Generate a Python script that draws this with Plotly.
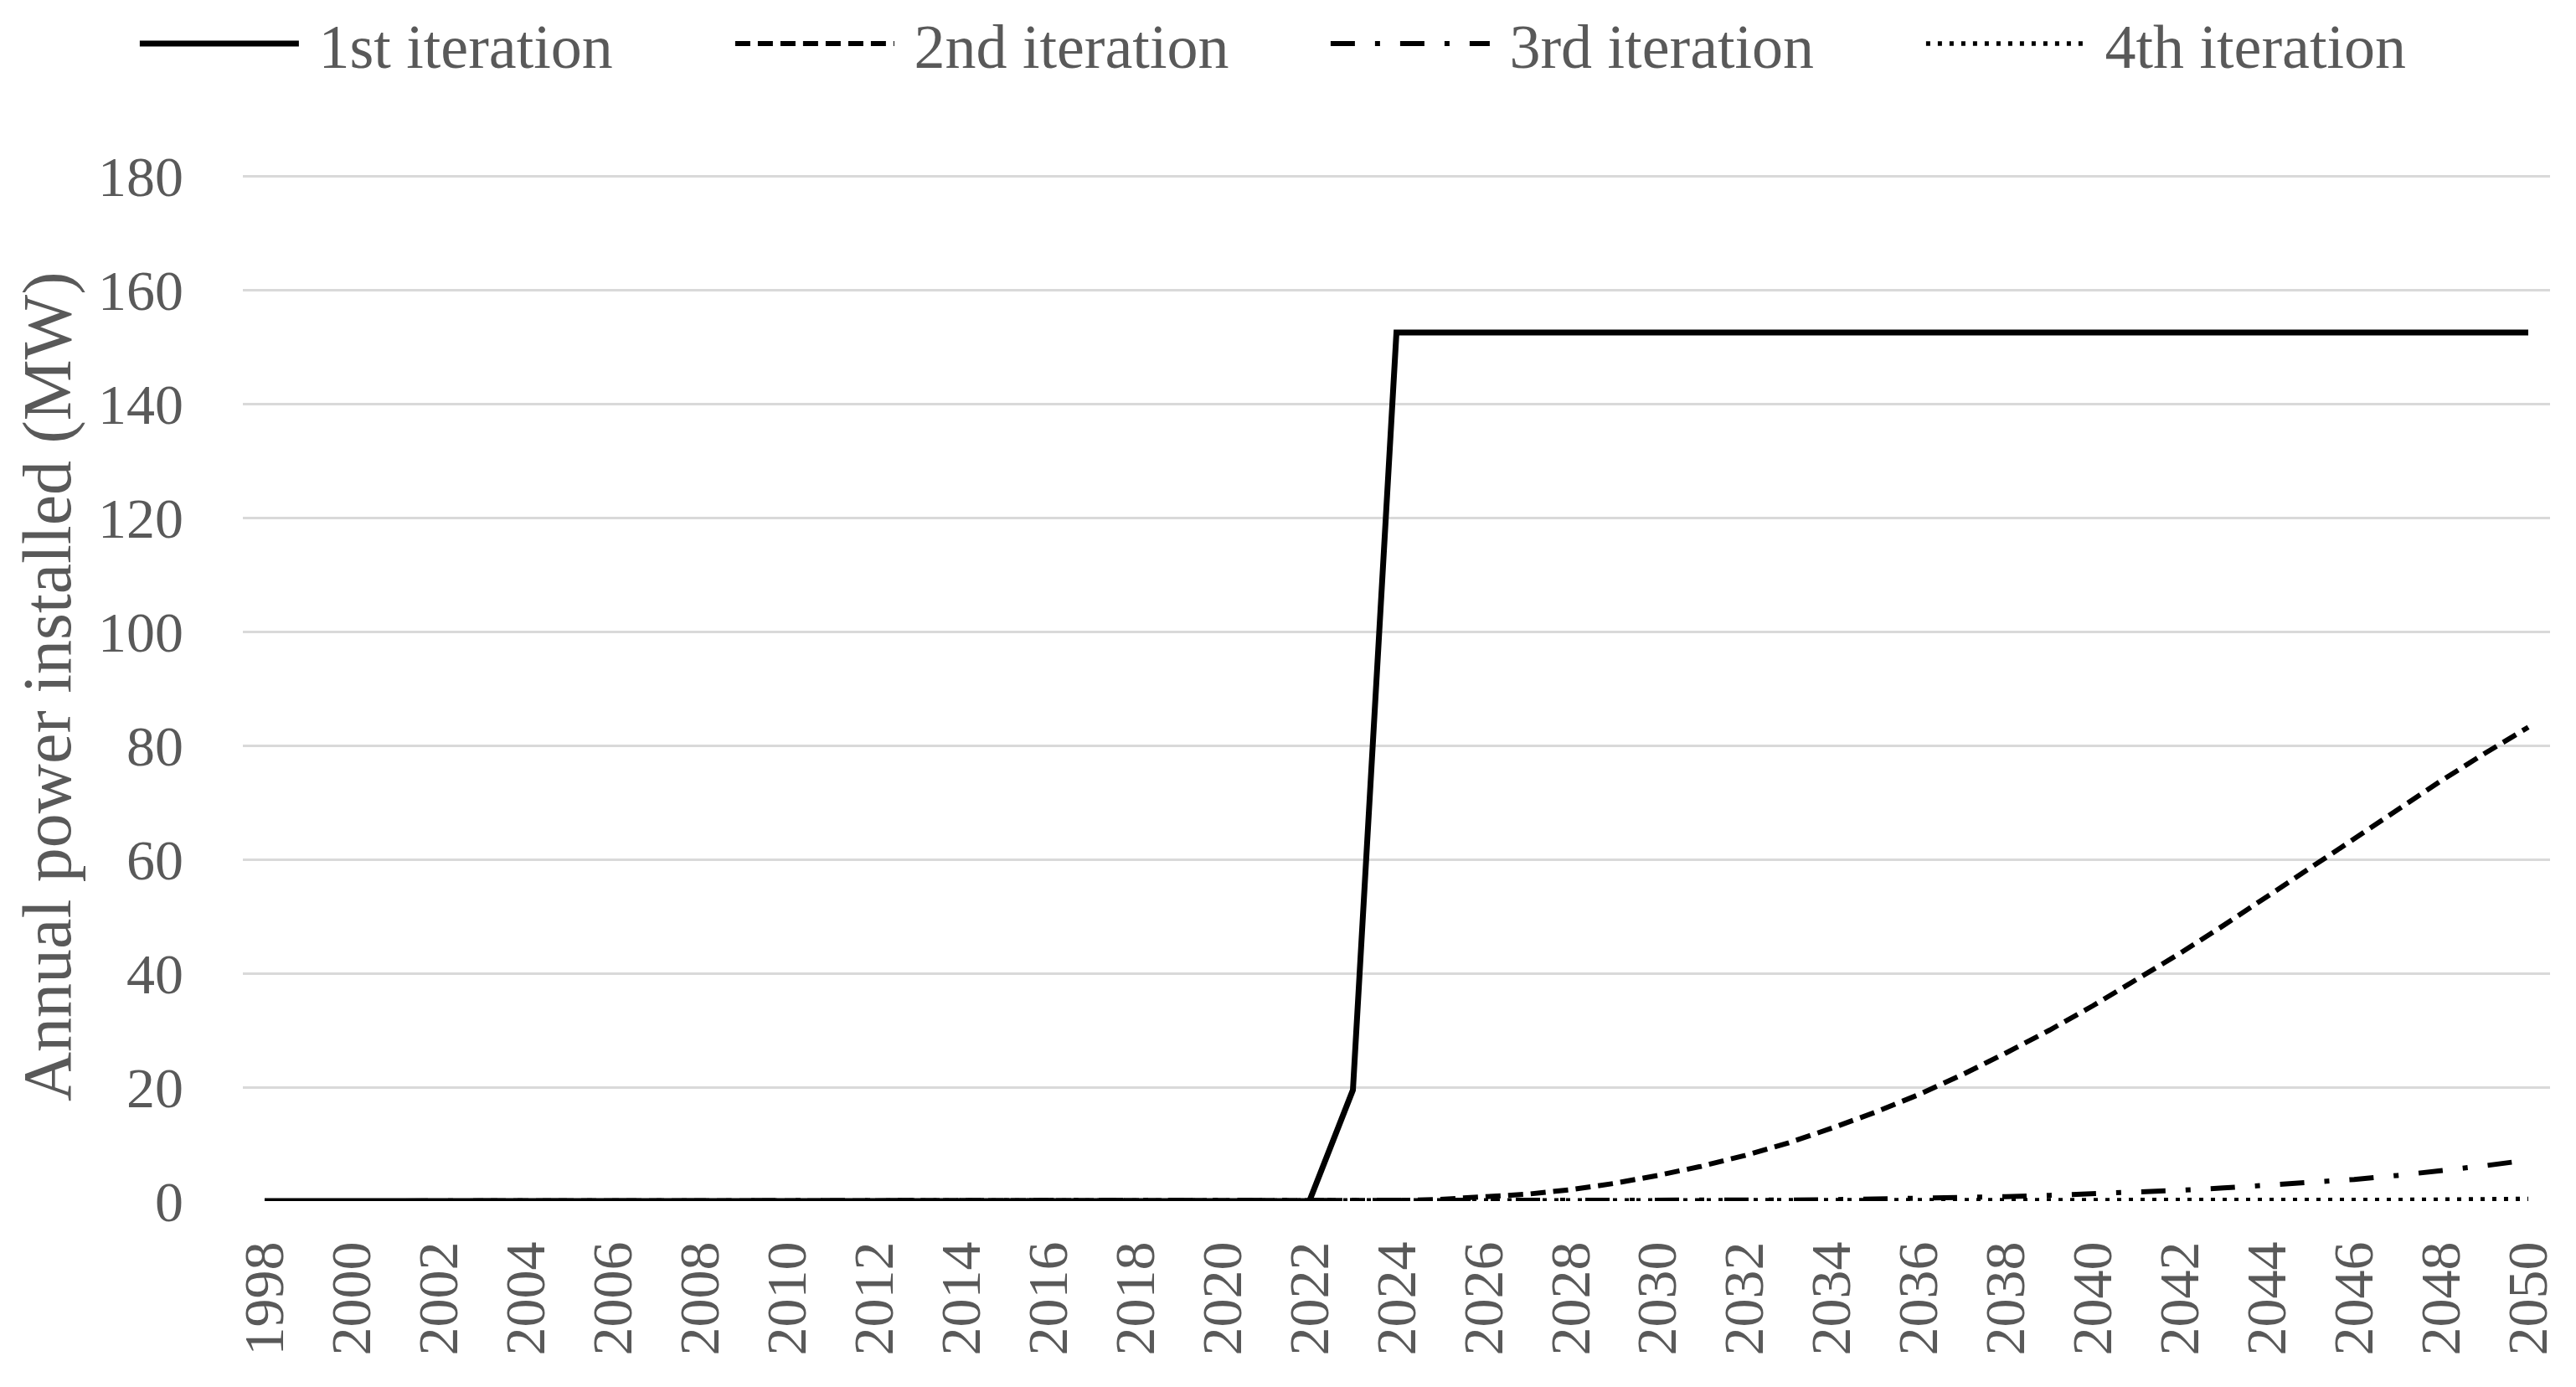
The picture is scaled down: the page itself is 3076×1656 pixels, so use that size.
import plotly.graph_objects as go

years = list(range(1998, 2051))

# 1st iteration: zero until 2022, ramp in 2023, plateau afterwards
iter1 = [0.0] * 25 + [19.5] + [152.5] * 27

# 2nd iteration (2023..2050), zeros before
iter2_tail = [0.0, 0.1, 0.3, 0.7, 1.2, 2.0, 3.1, 4.5, 6.1, 8.0, 10.2, 12.8, 15.6, 18.7,
              22.2, 26.0, 30.0, 34.3, 38.8, 43.5, 48.4, 53.4, 58.5, 63.6, 68.7, 73.8, 78.6, 83.2]
iter2 = [0.0] * 25 + iter2_tail

# 3rd iteration (2023..2050)
iter3_tail = [0.0, 0.0, 0.0, 0.0, 0.01, 0.02, 0.04, 0.06, 0.09, 0.13, 0.18, 0.25, 0.34, 0.45,
              0.6, 0.78, 1.0, 1.25, 1.55, 1.9, 2.3, 2.75, 3.25, 3.8, 4.5, 5.3, 6.2, 7.2]
iter3 = [0.0] * 25 + iter3_tail

# 4th iteration (2023..2050)
iter4_tail = [0.0] * 14 + [0.01, 0.01, 0.02, 0.03, 0.04, 0.05, 0.07, 0.09, 0.12, 0.15,
                           0.19, 0.24, 0.3, 0.37]
iter4 = [0.0] * 25 + iter4_tail

tick_years = list(range(1998, 2051, 2))
tick_labels = [str(y) for y in tick_years]
y_ticks = list(range(0, 181, 20))

names = ["1st iteration", "2nd iteration", "3rd iteration", "4th iteration"]
series = [iter1, iter2, iter3, iter4]
dashes = ["solid", "18px,9px", "29px,24px,6px,24px", "5px,9px"]
widths = [7, 6, 6, 5.5]

FONT = "Liberation Serif"
TXT = "#595959"

fig = go.Figure()
# draw later series first so the solid line sits on top at zero
order = [3, 2, 1, 0]
for i in order:
    fig.add_trace(go.Scatter(
        x=years, y=series[i], mode="lines", name="\u00a0" + names[i],
        line=dict(color="black", width=widths[i], dash=dashes[i]),
        legendrank=i + 1,
    ))

fig.update_layout(
    width=3076, height=1656,
    paper_bgcolor="white", plot_bgcolor="white",
    margin=dict(l=282, r=39, t=198, b=230, autoexpand=False),
    font=dict(family=FONT, size=68, color=TXT),
    showlegend=True,
    legend=dict(
        orientation="h", x=-0.0465, xanchor="left", y=1.125, yanchor="middle",
        itemwidth=190, entrywidth=506, entrywidthmode="pixels",
        font=dict(family=FONT, size=74, color=TXT),
        traceorder="normal", bgcolor="rgba(0,0,0,0)",
    ),
    xaxis=dict(
        range=[1997.5, 2050.5], tickmode="array", tickvals=tick_years, ticktext=tick_labels,
        tickangle=-90, showgrid=False, zeroline=False, showline=False, ticks="",
        automargin=False, ticklabelstandoff=34,
        tickfont=dict(family=FONT, size=68, color=TXT),
    ),
    yaxis=dict(
        range=[0, 180.59], tickmode="array", tickvals=y_ticks,
        showgrid=True, gridcolor="#d9d9d9", gridwidth=3, zeroline=False, showline=False,
        ticks="", automargin=False, ticklabelstandoff=70,
        tickfont=dict(family=FONT, size=68, color=TXT),
    ),
    annotations=[dict(
        text="Annual power installed (MW)", textangle=-90,
        xref="paper", yref="paper", x=-0.0849, y=0.5, xanchor="center", yanchor="middle",
        showarrow=False, font=dict(family=FONT, size=82, color=TXT),
    )],
)

fig.write_html("out.html")
